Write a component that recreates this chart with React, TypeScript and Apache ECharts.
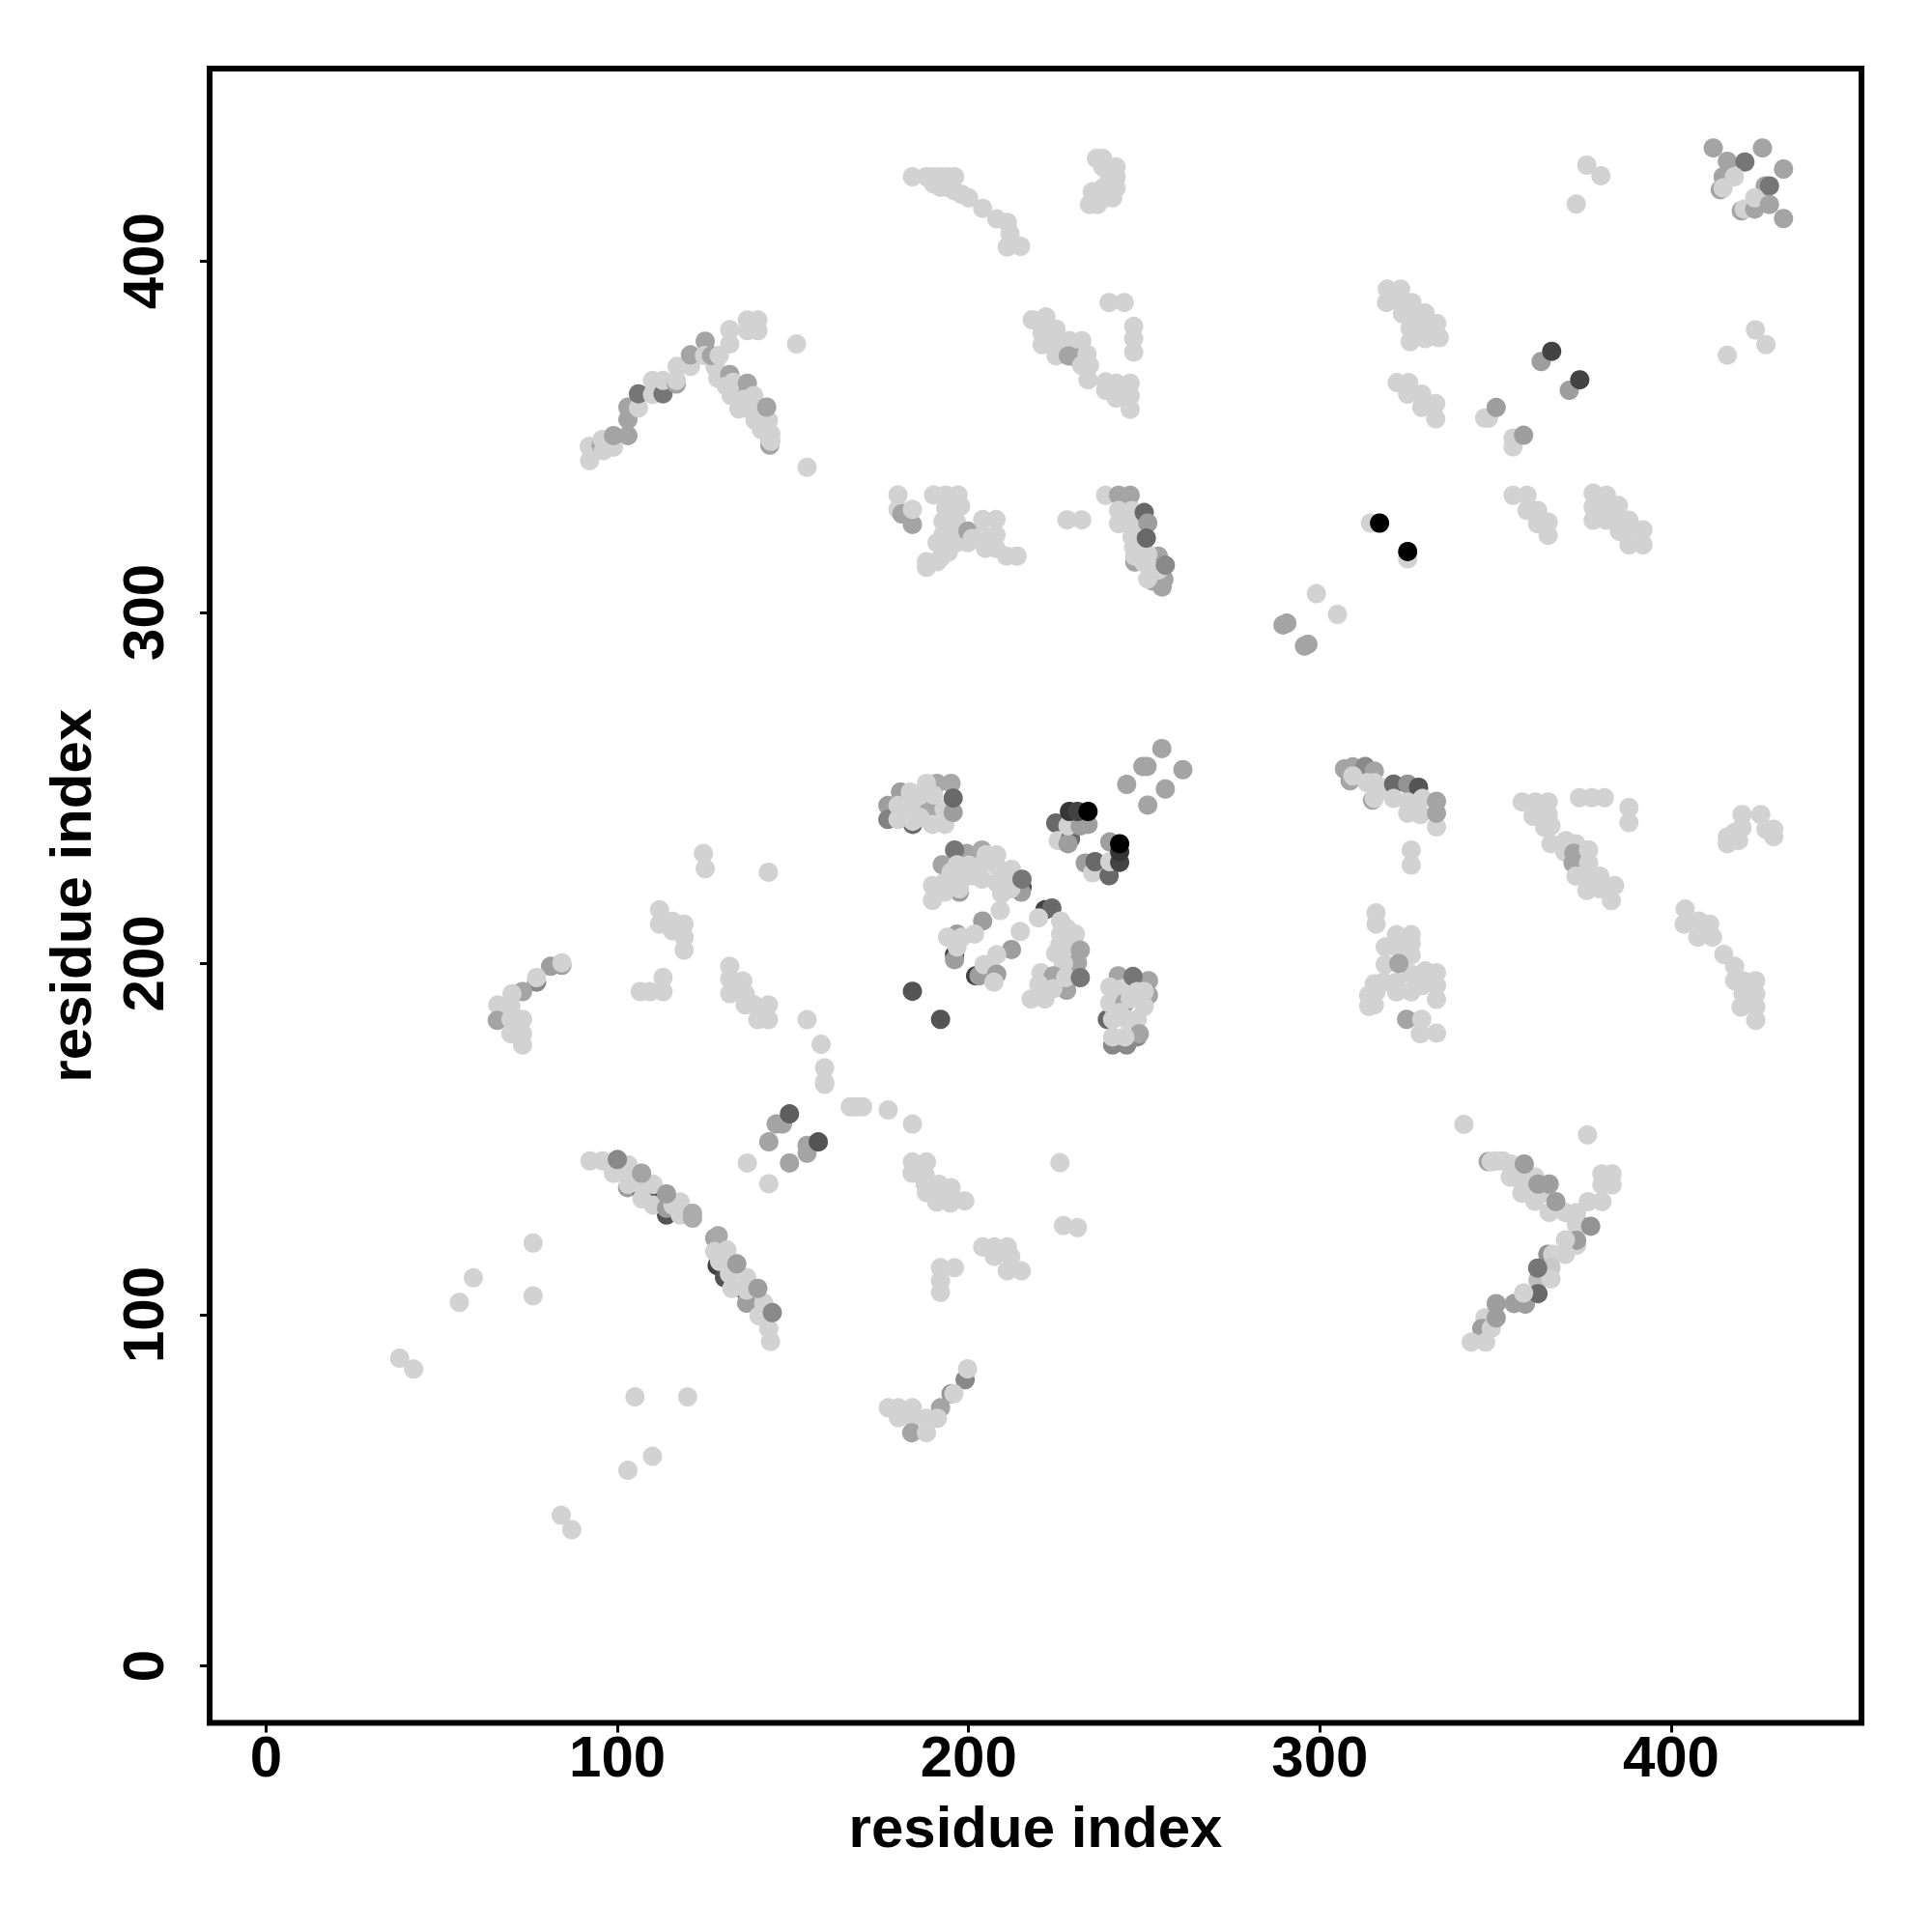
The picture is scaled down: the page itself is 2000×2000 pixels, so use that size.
import React, { useEffect, useRef } from "react";
import * as echarts from "echarts";

const tickValues = [0, 100, 200, 300, 400];
const axisTitle = "residue index";

// [residue x, residue y, contact strength (0 = weak, 1 = strong; omitted = 0)]
type P = number[];
const isolated: P[] = [[76,120.4],[59,110.5],[55,103.5],[76,105.4],[38,87.6],[42,84.5],[105,76.6],[120,76.6],[110,59.7],[103,55.7],[84,42.9],[87,38.8],[226,143.3],[227,125.4],[231,124.8],[341,154.2],[376.2,151.2],[373,416.2],[376,427.3],[380,424.3],[424,380.4],[427,376.2],[416,373.2],[151,376.4],[154,341.3],[228,326.3],[232.2,326.3],[299,305.3],[305,299.4],[326,232.3],[326,228],[124.5,231.3],[125,227],[143,226]];
const centerPairs: P[] = [[314.4,325.4],[325,315.2],[317,325.4,1],[325,317.3,1],[290.6,296.9,.22],[289.5,296.4,.22],[296.6,290.9,.22],[295.6,290.4,.22]];
const topRightCluster: P[] = [[412,432.2,.22],[426,432.2,.22],[416,428.4,.22],[421,428.2,.44],[432,426.2,.22],[426.8,421.4,.22],[428,421.4,.44],[414.8,424,.22],[414,420.3,.22],[418,424],[414.8,420.8],[420,414.3,.22],[420.8,414.8],[423.8,414.8,.22],[423.8,418],[428,416.1,.22],[432,412.1,.22]];
const topLeftArc: P[] = [[184,424],[188,424],[190,424],[192,424],[194,424],[196,424],[190,422],[192,421],[194,421],[196,420],[198,419],[200,418],[204,415],[208,412],[211,411],[211.8,407.8],[211,404],[214.8,404.2]];
const topBlob: P[] = [[236.4,429.2],[238.2,429.2],[238.2,426.8],[242,426.8],[242,424],[242,420.8],[238.2,420.8],[235.2,419.7],[234.4,416.1],[236.7,416.1],[239,418],[240,423],[241,418],[237,418.5]];
const lambdaArm: P[] = [[92.1,343.2],[92,347.2],[95.4,347.6,.22],[96,346],[95.7,349.2],[98.9,347],[98.9,350.3,.22],[103,350.3,.22],[103,354.9,.22],[103,358.4,.22],[106,358.2],[106,362.2,.44],[110,362],[110,366],[113,362.2,.44],[113,366],[116.8,365,.22],[116.8,366],[117,370],[120.8,370],[120.8,373.3,.22],[125,377.2,.22],[124.8,373.1],[126.8,373.1,.22],[129,373.1],[132,376.4],[132,380.5],[137,383.2],[140,383.2],[137,380.2],[140,380.2]];
const lambdaFall: P[] = [[143.4,347.6,.22],[127.8,369.9],[128.6,366.6],[132,367.7,.22],[131,364.4],[132.4,361.7],[134.6,357.9],[133,365.5],[135,362],[137,358],[137,365.2,.22],[137,362.2,.22],[136,360.6],[138.8,361.7],[138.8,357.9],[139.2,354.6],[143,354.6],[141,352],[143.7,350.8],[143.7,348.7],[143.4,349.2],[142.5,358.4,.22]];
const block180: P[] = [[179.9,333.4],[179.9,329.3],[181,328,.22],[184,325,.22],[184,329.3],[190,333.4],[193.5,333.4],[197,333.4],[197.7,330.2],[193.5,329.6],[192.7,325.8],[196.5,325.8],[192.7,322],[196.5,319.8],[199.8,319.8],[191,319.8],[195,323],[195,327],[193,319],[199.8,323.1,.22],[204,326.4],[207.8,326.4],[204,322],[207.8,322],[204.8,318.2],[207.8,318.2],[201,321],[210.8,316],[213.8,316],[192,315.5],[188,314.4],[188,312.8],[191,314.4],[194.2,317.1]];
const block215: P[] = [[240,388.2],[244.3,388.2],[247,381.4],[247,377.9],[247,374.1],[218.1,383.3],[222,384.1],[222,381.1],[220.9,379.5],[224.9,380.6],[220.9,376.2],[224.9,376.2],[224.9,373],[228.7,377.3],[232.2,377.3],[228.4,373,.22],[230.7,372.4,.22],[233.7,373.5],[232.2,370.3],[234.4,370.3],[234,366.2],[239,365.6],[242,365.2],[246,365.2],[239,363.2],[242,361],[246,361.6],[246,357.8]];
const block240: P[] = [[247.3,314.3,.22],[252.5,308.9,.22],[255.6,309.4,.22],[255.1,307.2,.22],[254,316,.22],[239,333.3],[242.7,333.3,.22],[246,333.3,.22],[242.7,329],[242.7,325.2],[246.5,329],[246.5,325],[246.5,321.4],[247.3,316],[251,316.5],[247,318.5],[252.5,312.1],[250,314],[254,312],[251,309.5],[250,328.4,.5],[251,325.4,.25],[250.6,321.1,.5],[256,313.4,.35]];
const block320: P[] = [[319.2,392],[323,392],[319,388.2],[322.7,388.7],[326.2,388.2],[323.5,385],[326.5,384.4],[330,385.2],[325.7,380.8],[325.7,377],[330,377.9],[333.3,382.2],[333.3,378.4],[334,378.2],[329.5,380.6],[322,365.4],[325.3,365.4],[325,362.1],[329,362.1],[329,358.3],[333,359.4],[333,355.1]];
const crossPairs: P[] = [[348,355.3],[346.9,355.3],[350.2,358.3,.25],[355,349.6],[355,347.1],[358,350.4,.25],[363,371.4,.25],[366,374.3,.68],[371,363.2,.25],[374,366.2,.68]];
const block355: P[] = [[355,333.3],[359,333.3],[359,329],[362,329],[362,325.2],[365,325.7],[365,321.9]];
const block377: P[] = [[377.8,333.9],[381.6,333.3],[377.8,330],[377.8,326.2],[381.6,326.2],[381.6,330],[385,330.4],[383.8,326.2],[388,326.2],[385.3,323],[388,323],[392,323.5],[388,319.2],[392,319.2]];
const leftHook: P[] = [[81,199.2,.25],[84.2,199.5,.25],[84.2,200.2],[77,194.7,.35],[77,196],[73,192,.22],[70,191.4],[66,188.2],[65.8,183.8,.22],[69.7,187.8],[69.7,184.1],[73,184.1],[69.7,180],[73,180],[73,176.8]];
const block112: P[] = [[112,215.3],[112,211.2],[115.7,212],[119,211.2],[115.7,209.3],[119,207.5],[119,203.8],[106.5,192],[109.3,192],[113,192],[113,196]];
const block132: P[] = [[132,199.2],[132,195.6],[135.7,195],[132,191.4],[136.4,191.4],[136.4,188.2],[139,188.2],[143,188.2],[140,184],[143,184],[154,184],[158,177],[159,170.3],[159,166.2]];
const block177: P[] = [[177,245,.25],[177,241,.38],[184.1,239.6,.5],[180.6,248.8,.25],[191,251.3,.2],[195,251.3,.2],[188,251.3],[183.4,248.8],[179.9,245],[179.9,241],[184.1,240.5],[183.4,245],[187.6,245],[189,244.2,.2],[189.7,239.6],[186.2,247.9],[186.2,241.5],[190,248],[193.2,239.6],[193,244],[195.6,243,.25],[195.6,247.1,.5]];
const darkBlock: P[] = [[224.8,240,.5],[225.5,235],[229,235.5,.5],[228.3,234.1,.25],[228.3,239.2],[231.8,239.2,.25],[234,239.6,.25],[228.7,243.3,.75],[231,243.3,.68],[234,243.3,1],[233.2,228.6,.25],[235.3,225.8],[236,229,.5],[240,225,.5],[240.2,234.6,.25],[240.2,229],[243,228.8,.68],[243,231.8,.75],[243,234.1,1]];
const diamond: P[] = [[255,261.2,.22],[249.6,256.1,.22],[250.8,256.1,.22],[261,255.2,.22],[245,251,.22],[256,249.7,.22],[251,245.1,.22]];
const block190: P[] = [[215.2,221.7,.68],[215,220.3,.25],[197.4,220.3,.25],[192.5,228.1,.22],[199.5,231.3,.22],[196,232.3,.44],[203.8,232.3,.2],[205,231],[208,230.9],[196.7,228.1],[200,228],[203,227.7],[208,227.7],[212.2,226.8],[212,221.3],[203.8,224],[201,225],[198.1,224],[193.2,223.1],[195,226],[189.7,222.2],[189.7,218],[193.2,220.3],[197.4,221.3],[208,223],[210,224.5],[209.4,219.9],[209,215.1],[215.2,224,.44]];
const block196: P[] = [[196,202.5,.68],[196,201.1,.25],[196.7,208.4,.25],[204,212.1,.25],[201.7,208.4],[198.1,207.5],[194,207.5],[196.7,204.7],[214.7,209.1],[202,196.5,.68],[203,196.5,.25],[212.2,204,.25],[208,202.5],[204.4,199.7],[208,197,.25],[207.2,194.7]];
const block220: P[] = [[221.7,215.3,.68],[223.7,215.8,.5],[219.9,213],[226.2,212.1],[230.4,208.4],[226.2,208.4],[228,210],[224.8,202.9],[226,205.5],[229,203.8],[231,200.2,.22],[231.8,203.8,.22],[227,200],[220.6,197.4],[224.1,196.5,.22],[227.9,192.4,.22],[227.6,196],[224,192.8],[220,194],[217.8,189.9],[221.7,189.9],[231.8,196,.44]];
const isolatedDark: P[] = [[184,192.1,.6],[192,184.1,.6]];
const block242: P[] = [[239.5,184.1,.5],[241,176.8,.35],[245,176.8,.35],[248,179.1,.35],[242.6,196.5,.22],[251.2,195.1,.22],[251.2,191,.22],[240.2,193.3],[243.7,192.8],[240.2,188.7],[244.5,188.7,.22],[246.8,196.3,.44],[250,187.8],[241,184.1],[245,184],[248,184.1],[246,190],[248,192],[243,186],[250,192],[248.6,180,.22],[241,179.1],[244.5,179.1]];
const block310: P[] = [[307,255.4,.22],[309.4,256,.22],[312.9,256.1,.35],[315.5,254.8,.22],[308.6,252,.22],[315,246.5,.22],[309.4,253.4],[313.4,251.5],[315.5,251.5],[315.5,247],[318,250],[321,251.1,.5],[325,251.1,.3],[328.1,250.2,.6],[321,247],[325,246],[329.2,247],[325,242.8],[328.6,242.4],[333.2,238.9],[333.2,246.2,.22],[333.2,242.8,.22]];
const block316: P[] = [[316,214.4],[316,211.2],[321.8,208.2],[326,208.2],[318.6,204.7],[321.8,204.7],[326,205.7],[326,202.4],[318.6,199.7],[318.1,194.7],[321.8,194.7],[326,197],[326,191.9],[321.8,191.9],[315.5,194.2],[313.9,191],[313.9,187.8],[316,191.9],[315.5,188.2],[330,197.9],[333.2,197.4],[329.2,193.7],[333.2,193.7],[333.2,189.8],[322.5,200,.22],[324.7,184.1,.22],[329,184.1],[328.6,180],[333.2,180.2]];
const block358: P[] = [[357.6,246],[361.3,246],[365,246],[360.7,241.9],[365,242.4],[364,238.7],[365.8,239.2],[373.9,247.2],[377.4,247.2],[381,247.2],[388,244.4],[388,240.1],[365.8,234.1],[370,235],[372.9,234.1],[369.7,231.8],[372.3,231.4,.22],[372.1,228.6,.22],[376.5,232.3],[376.5,228.6],[372.9,224.9],[376.5,224.5],[379.7,224.9],[376,220.8],[379.7,221.3],[383.9,222.2],[383,217.9]];
const block420: P[] = [[420.2,242.4],[425.5,242.4],[429.2,238.2],[429.2,236.1],[427,238.2],[420.2,238.7],[418.1,237.3],[416,236],[416,234.1],[419.2,235]];
const block405: P[] = [[404,215.5],[403.7,211.2],[407.9,212.1],[411,211.2],[407.6,207.5],[411.8,207.5],[415,202.6],[418.1,199.2],[418.1,195.1],[420.5,195.1],[424.1,195.1],[420.5,191.4],[424.1,191.4],[419.9,187.6],[424.1,187.6],[424.1,183.8]];
const diagUpper: P[] = [[92.2,143.8],[95.8,143.8],[98.9,140.3],[102.9,136.2,.25],[106.6,135.7,.5],[110.2,132.1,.6],[114,128.4,.6],[103.1,142.6],[103.1,138.9],[103.1,137.1],[106.6,137.1],[107,133],[110.2,137.1],[110.2,131.2],[114,130.3,.25],[115.8,131.2],[117.9,132.1],[117.9,128.4],[120,128.9],[100,144.2,.35],[106.9,140.3,.22],[114,134.4,.25],[121.4,127.5,.18],[121.4,128.9,.18]];
const diagLower: P[] = [[128.4,114,.68],[130.5,110.6,.6],[136.1,107,.5],[136.8,103.3,.25],[127.7,121.8,.22],[128.7,122.5,.2],[127.7,118],[131.2,118.4],[129.1,115.2],[131.9,111.6],[132.6,107.5],[136.8,110.6],[136.8,107],[141.7,103.3],[140.3,99.7],[143.1,96],[143.6,92.4],[134,114.5,.25],[140,107.5,.25],[144.1,100.6,.35]];
const midCross: P[] = [[145.2,154.3,.22],[147,154.3,.22],[149,157.2,.55],[143.1,149.2,.22],[154,146,.22],[154,148.2,.22],[157.2,149.2,.6],[137,143.2],[149,143.2,.22],[143.1,137.3],[166.3,159.2],[168,159.2],[169.8,159.2],[177.1,158.3],[184,154.3],[159,165.6]];
const block184: P[] = [[184,143.5],[188,143.5],[183.9,140.3],[187.6,139.8],[187.6,137.1],[191.6,137.1],[188,134.8],[191.6,134.8],[195,136.2],[195,133.9],[190.9,132.1],[194.8,131.8],[198.9,132.4]];
const block205: P[] = [[204,119.3],[207.3,119.3],[211,119.3],[207.3,116.6],[212,116.6],[211,112.5],[215,112.5],[192,113.4],[196,113.4],[192,109.7],[192,106.4]];
const bottomHook: P[] = [[195,77.5,.3],[199,81.5,.35],[199.7,84.6],[195.8,77.5],[192,73.5,.22],[177.1,73.5],[180,73.5],[184,73.5],[180,70.7],[184,70.5],[188,70.5],[191.1,70.5],[183.8,66.4,.22],[188,66.4]];
const yShapeUpper: P[] = [[347.9,143.6,.22],[373.1,126.9,.25],[348.8,143.6],[350.2,143.8],[352,143.8],[354.3,142.9],[354.2,139.2],[357.5,137.9],[357.5,134.6],[361.2,139.2],[361.2,132.3],[363.5,134.6],[365.3,129.1],[369.9,129.1],[373.1,125.5],[376.4,132.2],[380.3,132.2],[380.3,140.1],[383.2,140.1],[380.3,137],[383.2,137],[358.2,142.9,.25],[362.1,137.2,.25],[365.3,137.2,.25],[367.2,132.2,.25],[377.1,125.2,.3],[373.1,129.1]];
const yShapeLower: P[] = [[373.1,119.8],[373.1,121.2,.25],[364.9,117.2,.3],[369.9,121.3],[369.9,117.2],[366.3,117.2],[362.1,109.9,.1],[365.8,113.5,.05],[365.8,110.2],[362,113.3,.44],[355.3,103.2,.25],[358.5,103,.25],[362.1,106,.5],[358,106.2],[347,99.1],[346.1,96.1,.25],[348.8,96.1],[350.2,103.2,.25],[350.2,99.1,.25],[343.1,92.2],[347.2,92.2]];

const allPoints: P[] = [
  ...isolated, ...centerPairs, ...topRightCluster, ...topLeftArc, ...topBlob, ...lambdaFall, ...lambdaArm,
  ...block180, ...block215, ...block240, ...block320, ...crossPairs, ...block355, ...block377, ...leftHook,
  ...block112, ...block132, ...block177, ...darkBlock, ...diamond, ...block190, ...block196, ...block220,
  ...isolatedDark, ...block242, ...block310, ...block316, ...block358, ...block420, ...block405, ...diagUpper,
  ...diagLower, ...midCross, ...block184, ...block205, ...bottomHook, ...yShapeUpper, ...yShapeLower,
];

const FONT = "Liberation Sans";

function grayFor(strength: number): string {
  const g = Math.round(210 * (1 - strength));
  return `rgb(${g},${g},${g})`;
}

export default function App() {
  const ref = useRef<HTMLDivElement>(null);
  useEffect(() => {
    const chart = echarts.init(ref.current!, null, { renderer: "svg" });
    const axisBase = {
      type: "value" as const,
      name: axisTitle,
      nameLocation: "middle" as const,
      nameTextStyle: { fontFamily: FONT, fontWeight: "bold" as const, fontSize: 60, color: "#000" },
      splitLine: { show: false },
      axisLine: { show: false, onZero: false },
      axisTick: { show: true, length: 10, customValues: tickValues, lineStyle: { color: "#000", width: 3 } },
    };
    const labelBase = { customValues: tickValues, fontFamily: FONT, fontWeight: "bold" as const, fontSize: 60, color: "#000", hideOverlap: false };
    chart.setOption({
      animation: false,
      backgroundColor: "#fff",
      tooltip: { show: false },
      grid: { left: 217, top: 71, right: 73, bottom: 216.5, show: true, borderColor: "#000", borderWidth: 6, backgroundColor: "transparent" },
      xAxis: { ...axisBase, min: -16.09, max: 454.2, nameGap: 78, axisLabel: { ...labelBase, margin: 5 } },
      yAxis: { ...axisBase, min: -16.2, max: 454.8, nameGap: 114, axisLabel: { ...labelBase, rotate: 90, margin: 39 } },
      series: [{
        type: "scatter",
        symbol: "circle",
        symbolSize: 20,
        silent: true,
        data: allPoints.map((p) => ({ value: [p[0], p[1]], itemStyle: { color: grayFor(p[2] ?? 0), opacity: 1 } })),
      }],
    });
    return () => chart.dispose();
  }, []);
  return <div ref={ref} style={{ position: "absolute", left: 0, top: 0, width: 2000, height: 2000 }} />;
}
